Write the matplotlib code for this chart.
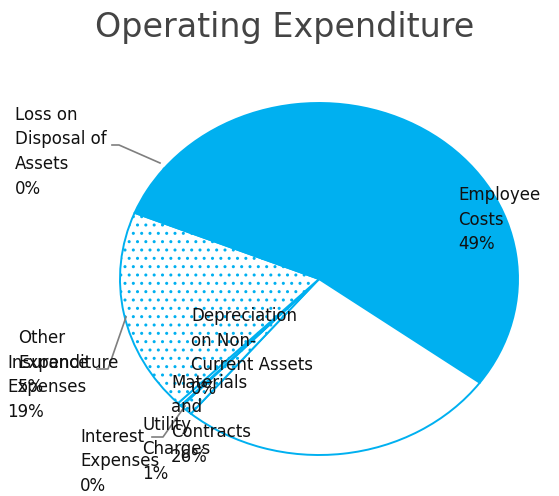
import matplotlib
matplotlib.use('Agg')
import matplotlib.pyplot as plt
from matplotlib.lines import Line2D

# data
categories = ['Employee Costs', 'Materials and Contracts', 'Utility Charges', 'Interest Expenses',
              'Depreciation on Non-Current Assets', 'Insurance Expenses', 'Other Expenditure',
              'Loss on Disposal of Assets']
values = [49.2, 26.1, 1.0, 0.1, 0.3, 18.6, 4.6, 0.1]
label_lines = [['Employee', 'Costs'],
               ['Materials', 'and', 'Contracts'],
               ['Utility', 'Charges'],
               ['Interest', 'Expenses'],
               ['Depreciation', 'on Non-', 'Current Assets'],
               ['Insurance', 'Expenses'],
               ['Other', 'Expenditure'],
               ['Loss on', 'Disposal of', 'Assets']]

# label anchors in pixels (left x, first line centre y) and leader lines
W, H = 559, 496
label_pos = [(458, 195), (171, 383), (142, 425), (80, 437),
             (191, 316), (7, 363), (18, 338), (15, 115)]
leaders = {7: [(112, 145), (119, 145), (160, 163)],
           6: [(97, 369), (108, 369), (126, 317)],
           3: [(152, 437), (163, 437), (185, 406)]}

blue = '#00B0F0'
styles = ['blue', 'white', 'dots']

plt.rcParams['font.family'] = 'DejaVu Sans'

fig = plt.figure(figsize=(W / 100, H / 100), dpi=100)
ax = fig.add_axes([120 / W, 41 / H, 398 / W, 352 / H])
wedges, _ = ax.pie(values, startangle=141, counterclock=False, radius=1,
                   wedgeprops=dict(linewidth=1.4, edgecolor=blue))
for i, w in enumerate(wedges):
    s = styles[i % 3]
    if s == 'blue':
        w.set_facecolor(blue)
    else:
        w.set_facecolor('white')
        if s == 'dots':
            w.set_hatch('..')
    w.set_clip_on(False)
ax.set_aspect('auto')
ax.set_xlim(-1, 1)
ax.set_ylim(-1, 1)
ax.axis('off')

fig.text(285 / W, 1 - 27 / H, 'Operating Expenditure', ha='center', va='center',
         fontsize=24, color='#444444')

total = sum(values)
for i, lines in enumerate(label_lines):
    pct = '{:.0f}%'.format(round(values[i] / total * 100))
    x0, y0 = label_pos[i]
    for j, txt in enumerate(lines + [pct]):
        fig.text(x0 / W, 1 - (y0 + 24.5 * j) / H, txt, ha='left', va='center',
                 fontsize=12, color='#111111')

for k, pts in leaders.items():
    xs = [p[0] / W for p in pts]
    ys = [1 - p[1] / H for p in pts]
    fig.add_artist(Line2D(xs, ys, transform=fig.transFigure, color='#7f7f7f', lw=1.2))

fig.savefig('out.png', dpi=100)
